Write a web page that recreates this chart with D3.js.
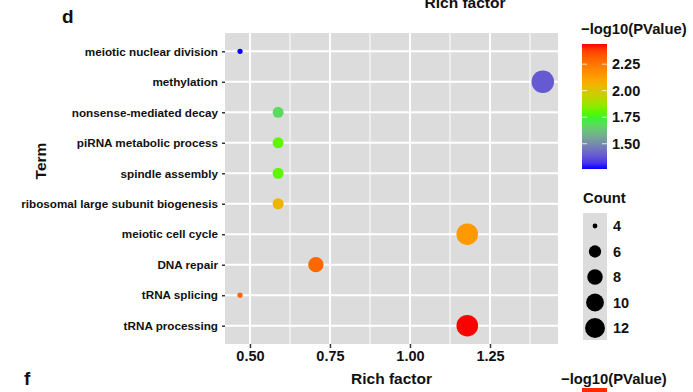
<!DOCTYPE html>
<html>
<head>
<meta charset="utf-8">
<script src="https://cdn.jsdelivr.net/npm/d3@7"></script>
<style>
  body { margin: 0; background: #fff; }
  text { font-family: "Liberation Sans", Arial, sans-serif; font-weight: bold; fill: #111; }
</style>
</head>
<body>
<div id="chart"></div>
<script>
// GO terms, top to bottom
const terms = [
  'meiotic nuclear division', 'methylation', 'nonsense-mediated decay',
  'piRNA metabolic process', 'spindle assembly', 'ribosomal large subunit biogenesis',
  'meiotic cell cycle', 'DNA repair', 'tRNA splicing', 'tRNA processing'
];
const richFactor = [0.469, 1.415, 0.588, 0.588, 0.588, 0.588, 1.179, 0.706, 0.469, 1.179];
const logP = [1.262, 1.39, 1.68, 1.80, 1.80, 2.05, 2.14, 2.29, 2.29, 2.44];
const counts = [4, 13, 5, 5, 5, 5, 12, 7, 4, 12];

const xTicks = [0.50, 0.75, 1.00, 1.25];
const xMinor = [0.625, 0.875, 1.125, 1.375];
const colorTicks = [1.50, 1.75, 2.00, 2.25];
const countBreaks = [4, 6, 8, 10, 12];

const W = 693, H = 392;
const panel = {left: 225, right: 558, top: 33, bottom: 344};

const svg = d3.select('#chart').append('svg')
  .attr('width', W).attr('height', H);

const x = d3.scaleLinear()
  .domain([0.422, 1.4625])
  .range([panel.left, panel.right]);

const y = d3.scalePoint()
  .domain(terms)
  .range([panel.top, panel.bottom])
  .padding(0.6);

const pMin = d3.min(logP), pMax = d3.max(logP);
const color = d3.scaleLinear()
  .domain([pMin, 1.76, 2.10, pMax])
  .range(['#0000ff', '#00ff00', '#ffa500', '#ff0000'])
  .interpolate(d3.interpolateLab);

const cMin = 4, cMax = d3.max(counts);
const rScale = d3.scaleSqrt().domain([0, cMax - cMin]).range([2.6, 11.3]);
const radius = c => rScale(c - cMin);

// panel background + grid
svg.append('rect')
  .attr('x', panel.left).attr('y', panel.top)
  .attr('width', panel.right - panel.left).attr('height', panel.bottom - panel.top)
  .attr('fill', '#dcdcdc');

const grid = svg.append('g');
grid.selectAll('.minor').data(xMinor).enter().append('line')
  .attr('x1', d => x(d)).attr('x2', d => x(d))
  .attr('y1', panel.top).attr('y2', panel.bottom)
  .attr('stroke', '#fff').attr('stroke-width', 1);
grid.selectAll('.major').data(xTicks).enter().append('line')
  .attr('x1', d => x(d)).attr('x2', d => x(d))
  .attr('y1', panel.top).attr('y2', panel.bottom)
  .attr('stroke', '#fff').attr('stroke-width', 2);
grid.selectAll('.hmajor').data(terms).enter().append('line')
  .attr('x1', panel.left).attr('x2', panel.right)
  .attr('y1', d => y(d)).attr('y2', d => y(d))
  .attr('stroke', '#fff').attr('stroke-width', 2);

// axes
const xAxis = svg.append('g')
  .attr('transform', 'translate(0,' + panel.bottom + ')')
  .call(d3.axisBottom(x).tickValues(xTicks).tickFormat(d3.format('.2f')).tickSize(4).tickPadding(3));
xAxis.select('.domain').remove();
xAxis.selectAll('line').attr('stroke', '#333').attr('stroke-width', 1.5);
xAxis.selectAll('text').attr('font-size', 14.5).attr('fill', '#111');

const yAxis = svg.append('g')
  .attr('transform', 'translate(' + panel.left + ',0)')
  .call(d3.axisLeft(y).tickSize(3).tickPadding(4));
yAxis.select('.domain').remove();
yAxis.selectAll('line').attr('stroke', '#333').attr('stroke-width', 1.5);
yAxis.selectAll('text').attr('font-size', 11.7).attr('fill', '#111');

// points
svg.append('g').selectAll('circle')
  .data(terms)
  .enter().append('circle')
    .attr('cx', (d, i) => x(richFactor[i]))
    .attr('cy', d => y(d))
    .attr('r', (d, i) => radius(counts[i]))
    .attr('fill', (d, i) => color(logP[i]));

// titles
svg.append('text').attr('x', (panel.left + panel.right) / 2).attr('y', 384)
  .attr('text-anchor', 'middle').attr('font-size', 15.5).text('Rich factor');
svg.append('text').attr('x', 465).attr('y', 8)
  .attr('text-anchor', 'middle').attr('font-size', 15.5).text('Rich factor');
svg.append('text').attr('transform', 'translate(46,161) rotate(-90)')
  .attr('text-anchor', 'middle').attr('font-size', 15.5).text('Term');
svg.append('text').attr('x', 62).attr('y', 23).attr('font-size', 19).text('d');
svg.append('text').attr('x', 24).attr('y', 385).attr('font-size', 19).text('f');

// colour legend
const bar = {x: 582, w: 25, top: 44, bottom: 169};
const yc = d3.scaleLinear().domain([pMin, pMax]).range([bar.bottom, bar.top]);

svg.append('text').attr('x', 581).attr('y', 34).attr('font-size', 14.8).text('\u2212log10(PValue)');

const grad = svg.append('defs').append('linearGradient')
  .attr('id', 'pgrad').attr('x1', 0).attr('y1', 1).attr('x2', 0).attr('y2', 0);
d3.range(0, 1.0001, 0.05).forEach(t => {
  grad.append('stop').attr('offset', t).attr('stop-color', color(pMin + t * (pMax - pMin)));
});
svg.append('rect').attr('x', bar.x).attr('y', bar.top)
  .attr('width', bar.w).attr('height', bar.bottom - bar.top)
  .attr('fill', 'url(#pgrad)');

const cl = svg.append('g').selectAll('g').data(colorTicks).enter().append('g');
cl.append('line').attr('x1', bar.x).attr('x2', bar.x + 5)
  .attr('y1', d => yc(d)).attr('y2', d => yc(d)).attr('stroke', '#fff').attr('stroke-opacity', 0.8);
cl.append('line').attr('x1', bar.x + bar.w - 5).attr('x2', bar.x + bar.w)
  .attr('y1', d => yc(d)).attr('y2', d => yc(d)).attr('stroke', '#fff').attr('stroke-opacity', 0.8);
cl.append('text').attr('x', 612).attr('y', d => yc(d)).attr('dy', '0.36em')
  .attr('font-size', 14.5).text(d => d.toFixed(2));

// size legend
svg.append('text').attr('x', 583).attr('y', 203).attr('font-size', 14.8).text('Count');
svg.append('rect').attr('x', 583).attr('y', 213).attr('width', 24).attr('height', 127)
  .attr('fill', '#dcdcdc');
const ky = d3.scalePoint().domain(countBreaks).range([226, 328]);
const sl = svg.append('g').selectAll('g').data(countBreaks).enter().append('g');
sl.append('circle').attr('cx', 595).attr('cy', d => ky(d)).attr('r', d => radius(d) * 0.92).attr('fill', '#000');
sl.append('text').attr('x', 613).attr('y', d => ky(d)).attr('dy', '0.36em')
  .attr('font-size', 14.5).text(d => d);

// next panel's colour bar peeking in at the bottom
svg.append('rect').attr('x', 582).attr('y', 388).attr('width', 25).attr('height', 4).attr('fill', '#ff2a00');
svg.append('text').attr('x', 561).attr('y', 384).attr('font-size', 14.8).text('\u2212log10(PValue)');
</script>
</body>
</html>
